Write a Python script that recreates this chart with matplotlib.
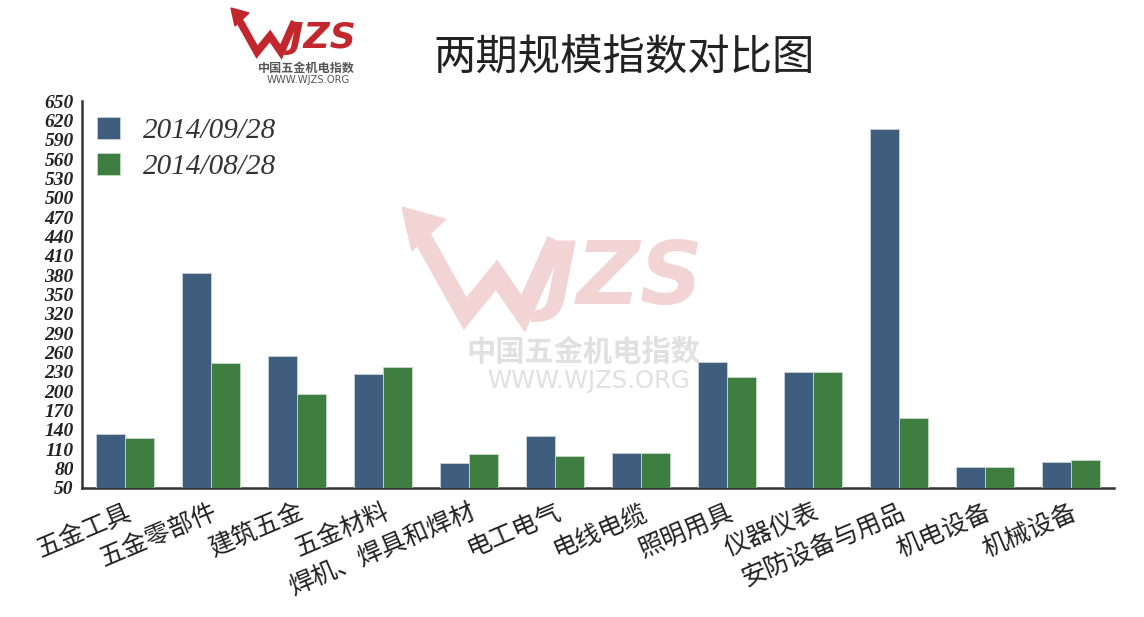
import numpy as np
import matplotlib
matplotlib.use("Agg")
import matplotlib.pyplot as plt
from matplotlib.lines import Line2D
from matplotlib.patches import Polygon

# data
categories = ["五金工具", "五金零部件", "建筑五金", "五金材料", "焊机、焊具和焊材", "电工电气",
              "电线电缆", "照明用具", "仪器仪表", "安防设备与用品", "机电设备", "机械设备"]
sep_values = [133, 383, 255, 227, 88, 131, 105, 245, 230, 606, 83, 91]
aug_values = [127, 244, 195, 238, 103, 100, 105, 222, 230, 158, 83, 94]
series_labels = ["2014/09/28", "2014/08/28"]
yticks = list(range(50, 651, 30))

blue = "#3f5e7e"
green = "#3e7e40"
cjk = ["Noto Sans CJK SC", "DejaVu Sans"]

W, H = 1144, 617
fig = plt.figure(figsize=(W / 100, H / 100), dpi=100)


def px(x, y):
    # pixel position (from top-left) -> figure fraction
    return x / W, 1 - y / H


def draw_logo(tx, ty, s, red, gray, z):
    # arrow + W stroke, then the rest of the letters as text
    pts = [(0, 0), (24, 42), (37, 26), (48, 42), (60, 15)]
    xs, ys = zip(*[px(tx + a * s, ty + b * s) for a, b in pts[1:]])
    x0, y0 = px(tx + 5 * s, ty + 8 * s)
    fig.add_artist(Line2D((x0,) + xs, (y0,) + ys, color=red, lw=5.5 * s,
                          solid_joinstyle="miter", zorder=z))
    head = [px(tx - 2 * s, ty - 2 * s), px(tx + 16 * s, ty + 3 * s), px(tx + 2 * s, ty + 16 * s)]
    fig.add_artist(Polygon(head, closed=True, color=red, transform=fig.transFigure, zorder=z))
    fig.text(*px(tx + 57 * s, ty + 28 * s), "JZS", color=red, fontsize=26 * s,
             fontweight="bold", fontstyle="oblique", family="DejaVu Sans",
             ha="left", va="center", zorder=z)
    fig.text(*px(tx + 73 * s, ty + 58 * s), "中国五金机电指数", color=gray, fontsize=8.7 * s,
             fontweight="bold", family=cjk, ha="center", va="center", zorder=z)
    fig.text(*px(tx + 75 * s, ty + 70 * s), "WWW.WJZS.ORG", color=gray, fontsize=7.2 * s,
             family="DejaVu Sans", ha="center", va="center", zorder=z)


draw_logo(233, 10, 1.0, "#c1272d", "#555555", 2)
draw_logo(407, 212, 2.42, "#f2d4d4", "#e0e0e0", -1)

fig.text(*px(624, 58), "两期规模指数对比图", family=cjk, fontweight="light", fontsize=30.5,
         color="#222222", ha="center", va="center")

ax = fig.add_axes([82 / W, 1 - 488 / H, 1032 / W, 387 / H])
ax.set_facecolor("none")

x = np.arange(len(categories))
w = 0.334
ax.bar(x - w / 2, sep_values, w, bottom=0, color=blue, edgecolor="#c9d2db", linewidth=0.6,
       label=series_labels[0], zorder=3)
ax.bar(x + w / 2, aug_values, w, bottom=0, color=green, edgecolor="#c9d9c9", linewidth=0.6,
       label=series_labels[1], zorder=3)

ax.set_xlim(-0.5, len(categories) - 0.5)
ax.set_ylim(50, 650)
ax.set_yticks(yticks)
ax.set_yticklabels([str(v) for v in yticks], family="Liberation Serif", fontweight="bold",
                   fontstyle="italic", fontsize=14, color="#222222")
ax.set_xticks(x)
ax.set_xticklabels(categories, family=cjk, fontweight="light", fontsize=18, color="#222222",
                   rotation=23, ha="right", va="top", rotation_mode="anchor")
ax.tick_params(axis="y", length=0, pad=6)
ax.tick_params(axis="x", length=0, pad=8)

for side in ["top", "right"]:
    ax.spines[side].set_visible(False)
for side in ["left", "bottom"]:
    ax.spines[side].set_color("#333333")
    ax.spines[side].set_linewidth(1.8)

leg = ax.legend(loc="upper left", bbox_to_anchor=px(82, 102), bbox_transform=fig.transFigure,
                frameon=False, borderpad=0, handlelength=0.8, handleheight=0.8,
                handletextpad=0.8, labelspacing=0.3,
                prop={"family": "Liberation Serif", "style": "italic", "size": 21})
for t in leg.get_texts():
    t.set_color("#333333")

fig.savefig("out.png", dpi=100)
